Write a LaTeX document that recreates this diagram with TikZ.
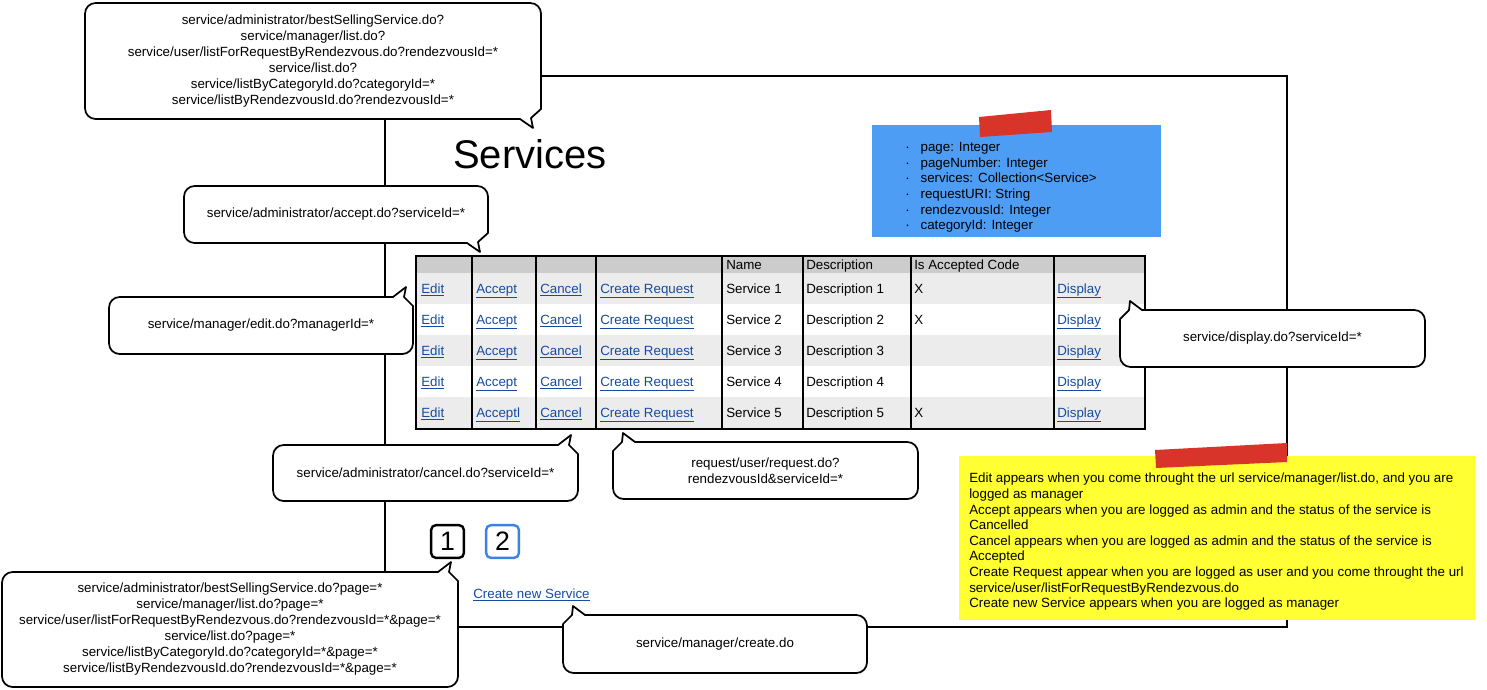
\documentclass[tikz,border=0pt]{standalone}
\usepackage{fontspec}
\setmainfont{Liberation Sans}
\usetikzlibrary{calc}
\definecolor{noteblue}{RGB}{78,157,245}
\definecolor{noteyellow}{RGB}{255,255,51}
\definecolor{tapered}{RGB}{216,52,42}
\definecolor{linkblue}{RGB}{22,76,160}
\definecolor{hdrgray}{RGB}{204,204,204}
\definecolor{rowgray}{RGB}{236,236,236}
\definecolor{btnblue}{RGB}{60,130,230}
% callout with tail at bottom-right corner: name, L, T, R, B, text
\newcommand\calloutBR[6]{%
  \draw[cbox] ({(#2+#4)/2},#3) [rounded corners=8pt] -- (#2,#3) -- (#2,#5) -- ({#2+30},#5)
    [sharp corners] -- ({#4-21},#5) -- ({#4-8},{#5+9}) -- ({#4-10},{#5-1}) -- (#4,{#5-10}) -- (#4,{#5-25})
    [rounded corners=8pt] -- (#4,#3) -- cycle;
  \node[ctext] (#1) at ({(#2+#4)/2},{(#3+#5)/2}) {#6};}
% callout with tail at top-right corner
\newcommand\calloutTR[6]{%
  \draw[cbox] ({(#2+#4)/2},#5) [rounded corners=8pt] -- (#2,#5) -- (#2,#3) -- ({#2+30},#3)
    [sharp corners] -- ({#4-20},#3) -- ({#4-7},{#3-10}) -- ({#4-9},#3) -- (#4,{#3+9}) -- (#4,{#3+24})
    [rounded corners=8pt] -- (#4,#5) -- cycle;
  \node[ctext] (#1) at ({(#2+#4)/2},{(#3+#5)/2}) {#6};}
% callout with tail at top-left corner
\newcommand\calloutTL[6]{%
  \draw[cbox] ({(#2+#4)/2},#5) [rounded corners=8pt] -- (#4,#5) -- (#4,#3) -- ({#4-30},#3)
    [sharp corners] -- ({#2+22},#3) -- ({#2+10},{#3-9}) -- ({#2+9},#3) -- (#2,{#3+9}) -- (#2,{#3+24})
    [rounded corners=8pt] -- (#2,#5) -- cycle;
  \node[ctext] (#1) at ({(#2+#4)/2},{(#3+#5)/2}) {#6};}
\begin{document}
\begin{tikzpicture}[x=0.75pt,y=-0.75pt,
  cbox/.style={draw=black,fill=white,line width=1.3pt,line join=round},
  ctext/.style={align=center,inner sep=0pt,font=\fontsize{10}{12}\selectfont},
  frameline/.style={draw=black,line width=1.6pt},
  cell/.style={anchor=base west,inner sep=0pt,font=\fontsize{10}{12}\selectfont},
  link/.style={text=linkblue},
  tline/.style={draw=black,line width=1.5pt},
  tborder/.style={draw=black,line width=2.2pt},
  pgbtn/.style={draw,rounded corners=3.5pt,line width=1.8pt,minimum width=24.5pt,minimum height=24.5pt,inner sep=0pt,font=\fontsize{20}{20}\selectfont},
  tape/.style={fill=tapered}]
\fill[white] (0,0) rectangle (1487,689);
\useasboundingbox (0,0) rectangle (1487,689);

% page frame
\draw[frameline] (385,76) rectangle (1287,627);

% title
\node[anchor=base,inner sep=0pt,font=\fontsize{30}{36}\selectfont] (title) at (530,168) {Services};

% blue note
\fill[noteblue] (872,125) rectangle (1161,237);
\fill[tape] (979,117) -- (1051,110) -- (1052,132) -- (980,137) -- cycle;
\node[anchor=north west,align=left,inner sep=0pt,font=\fontsize{10}{11.75}\selectfont] (vars) at (905,142)
 {\makebox[11.5pt][l]{·}page: Integer\\
  \makebox[11.5pt][l]{·}pageNumber: Integer\\
  \makebox[11.5pt][l]{·}services: Collection<Service>\\
  \makebox[11.5pt][l]{·}requestURI: String\\
  \makebox[11.5pt][l]{·}rendezvousId: Integer\\
  \makebox[11.5pt][l]{·}categoryId: Integer};

% yellow note
\fill[noteyellow] (959,456) rectangle (1475,620);
\fill[tape] (1155,450) -- (1287,443) -- (1287,462) -- (1156,468) -- cycle;
\node[anchor=north west,align=left,inner sep=0pt,font=\fontsize{10}{11.7}\selectfont] (notes) at (969,473)
 {Edit appears when you come throught the url service/manager/list.do, and you are\\
  logged as manager\\
  Accept appears when you are logged as admin and the status of the service is\\
  Cancelled\\
  Cancel appears when you are logged as admin and the status of the service is\\
  Accepted\\
  Create Request appear when you are logged as user and you come throught the url\\
  service/user/listForRequestByRendezvous.do\\
  Create new Service appears when you are logged as manager};

% table
\fill[hdrgray] (416,256) rectangle (1145,273);
\foreach \r in {1,3,5} \fill[rowgray] (416,{273+(\r-1)*31}) rectangle (1145,{273+\r*31});
\foreach \x in {472,536,596,722,803,911,1054} \draw[tline] (\x,256) -- (\x,429);
\draw[tborder] (416,256) rectangle (1145,429);
\node[cell] (hname) at (726,269.5) {Name};
\node[cell] (hdesc) at (806,269.5) {Description};
\node[cell] (hacc) at (914,269.5) {Is Accepted Code};
\foreach \r/\acc/\acx in {1/Accept/X,2/Accept/X,3/Accept/{},4/Accept/{},5/Acceptl/X}{
  \pgfmathsetmacro\yb{273+(\r-0.5)*31+4.5}
  \node[cell,link] (edit\r) at (421,\yb) {\underline{Edit}};
  \node[cell,link] (accept\r) at (476,\yb) {\underline{\acc}};
  \node[cell,link] (cancel\r) at (540,\yb) {\underline{Cancel}};
  \node[cell,link] (creq\r) at (600,\yb) {\underline{Create Request}};
  \node[cell] (name\r) at (726,\yb) {Service \r};
  \node[cell] (desc\r) at (806,\yb) {Description \r};
  \node[cell] (isacc\r) at (914,\yb) {\acx};
  \node[cell,link] (disp\r) at (1057,\yb) {\underline{Display}};
}

% pagination and link
\node[pgbtn] (pg1) at (447.5,541.5) {1};
\node[pgbtn,draw=btnblue] (pg2) at (502.5,541.5) {2};
\node[cell,link] (createsvc) at (473,598.5) {\underline{Create new Service}};

% callouts
\calloutBR{cList}{85}{3}{541}{119}{service/administrator/bestSellingService.do?\\service/manager/list.do?\\service/user/listForRequestByRendezvous.do?rendezvousId=*\\service/list.do?\\service/listByCategoryId.do?categoryId=*\\service/listByRendezvousId.do?rendezvousId=*}
\calloutBR{cAccept}{184}{186}{488}{243}{service/administrator/accept.do?serviceId=*}
\calloutTR{cEdit}{109}{297}{413}{354}{service/manager/edit.do?managerId=*}
\calloutTL{cDisplay}{1120}{310}{1425}{367}{service/display.do?serviceId=*}
\calloutTR{cCancel}{273}{445}{578}{501}{service/administrator/cancel.do?serviceId=*}
\calloutTL{cRequest}{613}{442}{918}{499}{request/user/request.do?\\rendezvousId\&serviceId=*}
\calloutTR{cPage}{2}{572}{458}{687}{service/administrator/bestSellingService.do?page=*\\service/manager/list.do?page=*\\service/user/listForRequestByRendezvous.do?rendezvousId=*\&page=*\\service/list.do?page=*\\service/listByCategoryId.do?categoryId=*\&page=*\\service/listByRendezvousId.do?rendezvousId=*\&page=*}
\calloutTL{cCreate}{563}{615}{867}{673}{service/manager/create.do}
\end{tikzpicture}
\end{document}
